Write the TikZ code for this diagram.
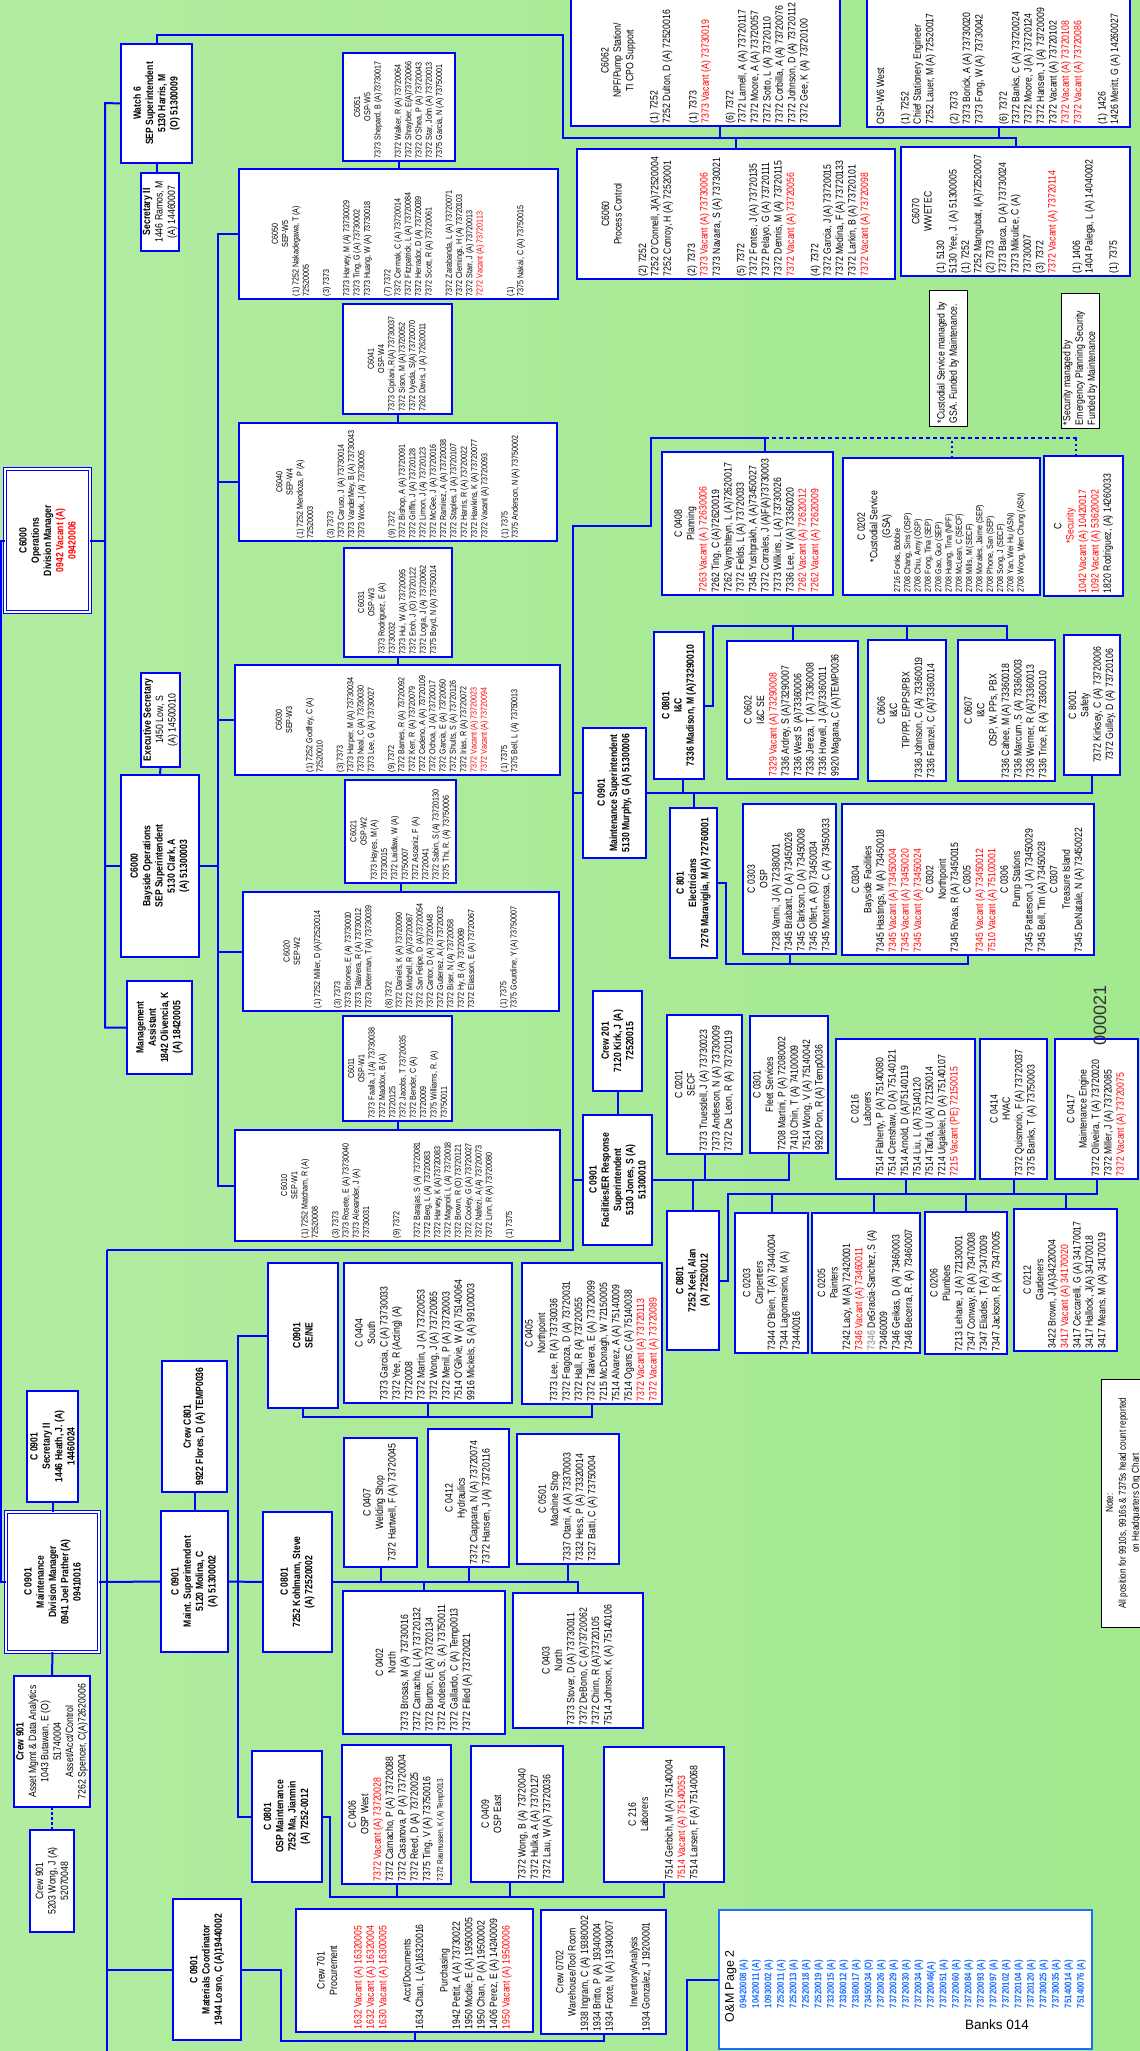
\documentclass[tikz,border=0pt]{standalone}
\usepackage{fontspec}
\setmainfont{Liberation Sans}
\newfontfamily\nar{Liberation Sans}[FakeStretch=0.82]
\usepackage{graphicx}
\exhyphenpenalty=10000 \hyphenpenalty=10000 \hbadness=10000 \hfuzz=80pt
\definecolor{orgblue}{RGB}{0,0,255}
\definecolor{vacred}{RGB}{255,0,0}
\definecolor{pageblue}{RGB}{25,110,255}
\definecolor{bgleft}{RGB}{178,236,161}
\definecolor{bgright}{RGB}{162,233,143}
\newcommand\ctr[1]{\hfill#1\hfill\null}
\newcommand\vac[1]{\textcolor{vacred}{#1}}
\newcommand\rt[2]{\rotatebox{90}{\parbox{#1pt}{#2}}}
\newcommand\fsm{\nar\fontsize{8.7pt}{10.3pt}\selectfont}
\newcommand\fmd{\nar\fontsize{10.6pt}{12.4pt}\selectfont}
\newcommand\fbd{\nar\bfseries\fontsize{10.5pt}{12.3pt}\selectfont}
\tikzset{
  box/.style={draw=orgblue, line width=2.2pt, fill=white, anchor=north west, inner sep=0pt, outer sep=0pt},
  head/.style={box, double=white, double distance=1.6pt, line width=1.3pt},
  notebox/.style={box, draw=black, line width=1pt},
  link/.style={draw=orgblue, line width=2pt},
}
\begin{document}
\begin{tikzpicture}[x=1pt, y=-1pt]
\shade[left color=bgleft, right color=bgright] (0,0) rectangle (1140,2051);
\useasboundingbox (0,0) rectangle (1140,2051);

% operations division
\node[head, minimum width=85, minimum height=143] (ops) at (5,469) {\rt{137}{\centering\fbd C6000\\Operations\\Division Manager\\\vac{0942  Vacant (A)}\\\vac{09420006}}};
\node[box, minimum width=71, minimum height=119] (watch) at (121,44) {\rt{113}{\centering\fbd Watch 6\\SEP Superintendent\\5130 Harris, M\\(O) 51300009}};
\node[box, minimum width=38, minimum height=78] (sec6) at (141,173) {\rt{74}{\centering\fmd\textbf{Secretary II}\\1446 Ramos, M\\(A) 14460007}};
\node[box, minimum width=39, minimum height=94] (exsec) at (141,673) {\rt{90}{\centering\fmd\textbf{Executive Secretary}\\1450 Low, S\\(A) 14500010}};
\node[box, minimum width=78, minimum height=182] (bayside) at (121,775) {\rt{176}{\centering\fbd C6000\\Bayside Operations\\SEP Superintendent\\5130  Clark, A\\(A) 51300003}};
\node[box, minimum width=65, minimum height=93] (mgmt) at (127,981) {\rt{89}{\centering\fbd Management\\Assistant\\1842 Olivencia, K\\(A) 18420005}};

% SEP watches
\node[box, minimum width=112, minimum height=108] (c6051) at (343,53) {\rt{102}{\raggedright\fsm\ctr{C6051}\\\ctr{OSP-W5}\\7373 Shepard, B (A)73730017\\[10pt]7372 Walker, R (A) 73720064\\7372 Shrayber, E(A)73720066\\7372 O'Shea, P (A) 73720043\\7372 Star, John (A) 73720013\\7375 Garcia, N (A) 73750001}};
\node[box, minimum width=319, minimum height=130] (c6050) at (239,169) {\rt{124}{\raggedright\fsm\ctr{C6050}\\\ctr{SEP-W5}\\(1) 7252 Nakadegawa, T (A)\\72520005\\[10pt](3) 7373\\[10pt]7373 Harvey, M (A) 73730029\\7373 Ting, G (A) 73730002\\7373 Huang, W (A) 73730018\\[10pt](7) 7372\\7372 Cermak, C (A) 73720014\\7372 Fitzpatrick, L (A) 73720084\\7372 Herrador, D (A) 73720039\\7372 Scott, R (A) 73720061\\[10pt]7372 Zarabanda, L (A) 73720071\\7372 Clemings, H (A) 73720103\\7372 Starr, J (A) 73720013\\\vac{7272 Vacant (A) 73720113}\\[20pt](1)\\7375 Nakai, C (A) 73750015}};
\node[box, minimum width=109, minimum height=110] (c6041) at (343,304) {\rt{104}{\raggedright\fsm\ctr{C6041}\\\ctr{OSP-W4}\\7373 Cipriani, R(A) 73730037\\7372 Sison, M (A)73720052\\7372 Uyeda, S(A) 73720070\\7262 Davis, J (A) 72620011}};
\node[box, minimum width=318, minimum height=118] (c6040) at (239,423) {\rt{112}{\raggedright\fsm\ctr{C6040}\\\ctr{SEP-W4}\\(1) 7252 Mendoza, P (A)\\72520003\\[10pt](3) 7373\\7373 Caruso, J (A) 73730014\\7373 VanderMey, B (A) 73730043\\7373 Work, J (A) 73730005\\[20pt](9) 7372\\7372 Bishop, A (A) 73720091\\7372 Griffin, J (A) 73720128\\7372 Limon, J (A) 73720123\\7372 McGee, J (A) 73720016\\7372 Ramirez, A (A) 73720038\\7372 Staples, J (A) 73720107\\7372 Harris, R (A) 73720022\\7372 Hawkins, K (A) 73720077\\7372 Vacant (A) 73720093\\[10pt](1) 7375\\7375 Anderson, N (A) 73750002}};
\node[box, minimum width=108, minimum height=109] (c6031) at (344,548) {\rt{103}{\raggedright\fsm\ctr{C6031}\\\ctr{OSP-W3}\\7373 Rodriguez, E (A)\\73730032\\7373 Hui, W (A) 73720095\\7372 Eroh, J (O) 73720122\\7372 Logia, J (A) 73720062\\7375 Boyd, N (A) 73750014}};
\node[box, minimum width=325, minimum height=110] (c6030) at (235,665) {\rt{104}{\raggedright\fsm\ctr{C6030}\\\ctr{SEP-W3}\\[10pt](1) 7252 Godfrey, C (A)\\72520010\\[10pt](3) 7373\\7373 Harper, M (A) 73730034\\7373 Neal, C (A) 73730030\\7373 Lee, G (A) 73730027\\[10pt](9) 7372\\7372 Barnes, R (A) 73720092\\7372 Kerr, R (A) 73720079\\7372 Cedeno, A (A) 73720109\\7372 Ochoa, J (A) 73720017\\7372 Garcia, E (A) 73720050\\7372 Shults, S (A) 73720126\\7372 Irias, R (A) 73720072\\\vac{7372 Vacant (A) 73720023}\\\vac{7372 Vacant (A) 73720094}\\[10pt](1) 7375\\7375 Bell, L (A) 73750013}};
\node[box, minimum width=111, minimum height=103] (c6021) at (345,780) {\rt{97}{\raggedright\fsm\ctr{C6021}\\\ctr{OSP-W2}\\7373 Hayes, M (A)\\73730015\\7372 Laidlaw, W (A)\\73750007\\7372 Ascaniz, F (A)\\73720041\\7372 Sabin, S (A) 73720130\\7375 Thi, R. (A) 73750006}};
\node[box, minimum width=316, minimum height=119] (c6020) at (243,892) {\rt{113}{\raggedright\fsm\ctr{C6020}\\\ctr{SEP-W2}\\[10pt](1) 7252 Miller, D (A)72520014\\[10pt](3) 7373\\7373 Briones, E (A) 73730010\\7373 Talavera, R (A) 73730012\\7373 Determan, T (A) 73730039\\[10pt](8) 7372\\7372 Daniels, K (A) 73720090\\7372 Mitchell, R (A)73720087\\7372 San Felipe, D (A)73720054\\7372 Cantor, D (A) 73720048\\7372 Gutierrez, A (A) 73720032\\7372 Biser, N (A) 73720058\\7372 Hy, B (A) 73720069\\7372 Eliasson, E (A) 73720067\\[22pt](1) 7375\\7375 Gourdine, Y (A) 73750007}};
\node[box, minimum width=109, minimum height=105] (c6011) at (343,1016) {\rt{99}{\raggedright\fsm\ctr{C6011}\\\ctr{OSP-W1}\\7373 Faalla, J (A) 73730038\\7372 Maddox, B (A)\\73720125\\7372 Jacobs, T 73720035\\7372 Bender, C (A)\\73720009\\7375 Williams, R. (A)\\73750011}};
\node[box, minimum width=325, minimum height=111] (c6010) at (235,1130) {\rt{105}{\raggedright\fsm\ctr{C6010}\\\ctr{SEP-W1}\\(1) 7252 Matcham, R (A)\\72520008\\[10pt](3) 7373\\7373 Rosete, E (A) 73730040\\7373 Alexander, J (A)\\73730031\\[20pt](9) 7372\\[10pt]7372 Barajas, S (A) 73720081\\7372 Berg, L (A) 73720083\\7372 Harvey, K (A)73720083\\7372 Magnoli, L (A) 73720018\\7372 Brown, R (O) 73720121\\7372 Cooley, G (A) 73720027\\7372 Nafezi, A (A) 73720073\\7372 Linn, R (A) 73720080\\[10pt](1) 7375}};

% watch 6 units
\node[box, minimum width=269, minimum height=131] (c6062) at (571,-5) {\rt{125}{\raggedright\fmd\ctr{C6062}\\\ctr{NPF/Pump Station/}\\\ctr{TI CPO Support}\\[12pt](1) 7252\\7252 Dulton, D (A) 72520016\\[14pt](1) 7373\\\vac{7373 Vacant (A) 73730019}\\[12pt](6) 7372\\7372 Larnell, A (A) 73720117\\7372 Moore, A (A) 73720057\\7372 Sotto, L (A) 73720110\\7372 Corbilla, A (A) 73720076\\7372 Johnson, D (A) 73720112\\7372 Gee, K (A) 73720100}};
\node[box, minimum width=318, minimum height=130] (c6060) at (577,149) {\rt{124}{\raggedright\fmd\ctr{C6060}\\\ctr{Process Control}\\[12pt](2) 7252\\7252 O'Connell, J(A)72520004\\7252 Conroy, H (A) 72520001\\[12pt](2) 7373\\\vac{7373 Vacant (A) 73730006}\\7373 Navarra, S (A) 73730021\\[12pt](5) 7372\\7372 Fontes, J (A) 73720135\\7372 Pelayo, G (A) 73720111\\7372 Dennis, M (A) 73720115\\\vac{7372 Vacant (A) 73720056}\\[12pt](4) 7372\\7372 Garcia, J (A) 73720015\\7372 Medina, F (A) 73720133\\7372 Larkin, B (A) 73720101\\\vac{7372 Vacant (A) 73720098}}};
\node[box, minimum width=263, minimum height=132] (ospw6) at (867,-5) {\rt{126}{\raggedright\fmd OSP-W6 West\\[12pt](1) 7252\\Chief Stationery Engineer\\7252 Lauer, M (A) 72520017\\[12pt](2) 7373\\7373 Borick, A (A) 73730020\\7373 Fong, W (A) 73730042\\[12pt](6) 7372\\7372 Banks, C (A) 73720024\\7372 Moore, J (A) 73720124\\7372 Hansen, J (A) 73720009\\7372 Vacant (A) 73720102\\\vac{7372 Vacant (A) 73720108}\\\vac{7372 Vacant (A) 73720086}\\[12pt](1) 1426\\1426 Meritt, G (A) 14260027}};
\node[box, minimum width=229, minimum height=129] (c6070) at (901,147) {\rt{123}{\raggedright\fmd\ctr{C6070}\\\ctr{WWETEC}\\(1) 5130\\5130 Yee, J. (A) 51300005\\(1) 7252\\7252 Mangubat, I(A)72520007\\(2) 7373\\7373 Barca, D (A) 73730024\\7373 Mikulice, C (A)\\73730007\\(3) 7372\\\vac{7372 Vacant (A) 73720114}\\[12pt](1) 1406\\1404 Palega, L (A) 14040002\\[12pt](1) 7375}};
\node[notebox, minimum width=38, minimum height=136] (custnote) at (929,290) {\rt{130}{\raggedright\fmd *Custodial Service managed by\\GSA. Funded by Maintenance.}};
\node[notebox, minimum width=38, minimum height=135] (secnote) at (1061,293) {\rt{129}{\raggedright\fmd *Security managed by\\Emergency Planning Security\\Funded by Maintenance}};

% maintenance superintendent
\node[box, minimum width=171, minimum height=143] (c0408) at (662,452) {\rt{137}{\raggedright\fmd\ctr{C 0408}\\\ctr{Planning}\\\vac{7263 Vacant (A ) 72630006}\\7262 Ting, C (A)72620019\\7262 Vaynshteyn, L (A)72620017\\7372 Fields, L (A) 73720033\\7345 Yushprakh, A (A)73450027\\7372 Corrales, J (A)F(A)73730003\\7373 Wilkins, L (A) 73730026\\7336 Lee, W (A) 73360020\\\vac{7262 Vacant (A) 72620012}\\\vac{7262 Vacant (A) 72620009}}};
\node[box, minimum width=197, minimum height=137] (c0202) at (843,458) {\rt{131}{\raggedright\fmd\ctr{C 0202}\\\ctr{*Custodial Service}\\\ctr{(GSA)}\\\fsm 2716 Fonks, Bobbie\\2708 Chang, Sins (OSP)\\2708 Chiu, Amy (OSP)\\2708 Fong, Tina (SEP)\\2708 Gao, Guo (SEP)\\2708 Huang, Tina (NPF)\\2708 McLean, C (SECF)\\2708 Mills, M (SECF)\\2708 Morales, Jaime (SEP)\\2708 Phone, San (SEP)\\2708 Song, J (SECF)\\2708 Yan, Wei Hu (ASN)\\2708 Wong, Wen Chung (ASN)}};
\node[box, minimum width=79, minimum height=140] (csec) at (1044,456) {\rt{134}{\raggedright\fmd\ctr{C}\\\ctr{\vac{*Security}}\\\vac{1042 Vacant (A) 10420017}\\\vac{1092 Vacant (A) 53620002}\\1820 Rodriguez, (A) 14260033}};
\node[box, minimum width=63, minimum height=130] (murphy) at (583,728) {\rt{126}{\centering\fbd C 0901\\Maintenance Superintendent\\5130 Murphy, G (A) 51300006}};
\node[box, minimum width=50, minimum height=147] (c0801ic) at (654,632) {\rt{141}{\centering\fbd C 0801\\I\&C\\7336 Madison, M (A)73290010}};
\node[box, minimum width=131, minimum height=138] (c0602) at (727,641) {\rt{132}{\raggedright\fmd\ctr{C 0602}\\\ctr{I\&C SE}\\\vac{7329 Vacant (A) 73290008}\\7336 Ardrey, S (A)73290007\\7336 West S (A)73360006\\7336 Jereza, T (A) 73360008\\7336 Howell, J (A)73360011\\9920 Magana, C (A)TEMP0036}};
\node[box, minimum width=78, minimum height=141] (c0606) at (868,640) {\rt{135}{\raggedright\fmd\ctr{C 0606}\\\ctr{I\&C}\\\ctr{TIP/PP, E/PPS/PBX}\\7336 Johnson, C (A) 73360019\\7336 Franzel, C (A)73360014}};
\node[box, minimum width=97, minimum height=141] (c0607) at (958,640) {\rt{135}{\raggedright\fmd\ctr{C 0607}\\\ctr{I\&C}\\\ctr{OSP, W, PPs, PBX}\\7336 Cahee, M (A) 73360018\\7336 Marcum, S (A) 73360003\\7336 Werner, R (A)73360013\\7336 Trice, R (A) 73360010}};
\node[box, minimum width=56, minimum height=140] (c8001) at (1064,635) {\rt{134}{\centering\fmd C 8001\\Safety\\7372 Kirksey, C (A) 73720006\\7372 Gulley, D (A) 73720106}};
\node[box, minimum width=47, minimum height=150] (c801) at (670,808) {\rt{144}{\centering\fbd C 801\\Electricians\\7276 Maraviglia, M (A) 72760001}};
\node[box, minimum width=93, minimum height=150] (c0303) at (743,804) {\rt{144}{\raggedright\fmd\ctr{C 0303}\\\ctr{OSP}\\7238 Vanni, J (A) 72380001\\7345 Brabant, D (A) 73450026\\7345 Clarkson, D (A) 73450008\\7345 Olfert, A (O) 73450034\\7345 Monterrosa, C (A) 73450033}};
\node[box, minimum width=252, minimum height=151] (c0304) at (842,804) {\rt{145}{\raggedright\fmd\ctr{C 0304}\\\ctr{Bayside Facilities}\\7345 Hastings, M (A) 73450018\\\vac{7345 Vacant (A) 73450004}\\\vac{7345 Vacant (A) 73450020}\\\vac{7345 Vacant (A) 73450024}\\\ctr{C 0302}\\\ctr{Northpoint}\\7345 Rivas, R (A) 73450015\\\ctr{C 0305}\\\vac{7345 Vacant (A) 73450012}\\\vac{7510 Vacant (A) 75100001}\\\ctr{C 0306}\\\ctr{Pump Stations}\\7345 Patterson, J (A) 73450029\\7345 Bell, Tim (A) 73450028\\\ctr{C 0307}\\\ctr{Treasure Island}\\7345 DeNatale, N (A) 73450022}};

% facilities / ER response
\node[box, minimum width=49, minimum height=100] (crew201) at (593,991) {\rt{94}{\centering\fbd Crew 201\\7120 Kirk, J (A)\\72520015}};
\node[box, minimum width=69, minimum height=130] (facil) at (583,1115) {\rt{124}{\centering\fbd C 0901\\Facilities/ER Response\\Superintendent\\5130 Jones, S (A)\\51300010}};
\node[box, minimum width=75, minimum height=139] (c0201) at (667,1015) {\rt{133}{\raggedright\fmd\ctr{C 0201}\\\ctr{SECF}\\7373 Truesdell, J (A) 73730023\\7373 Anderson, N (A) 73730009\\7372 De Leon, R (A) 73720119}};
\node[box, minimum width=78, minimum height=137] (c0301) at (750,1016) {\rt{131}{\raggedright\fmd\ctr{C 0301}\\\ctr{Fleet Services}\\7208 Martini, P (A) 72080002\\7410 Chin, T (A) 74100009\\7514 Wong, V (A) 75140042\\9920 Pon, R (A) Temp0036}};
\node[box, minimum width=52, minimum height=139] (keel) at (667,1211) {\rt{133}{\centering\fbd C 0801\\7252 Keel, Alan\\(A) 72520012}};
\node[box, minimum width=73, minimum height=140] (c0203) at (735,1213) {\rt{134}{\raggedright\fmd\ctr{C 0203}\\\ctr{Carpenters}\\7344 O'Brien, T (A) 73440004\\7344 Lagomarsino, M (A)\\73440016}};
\node[box, minimum width=108, minimum height=140] (c0205) at (812,1213) {\rt{134}{\raggedright\fmd\ctr{C 0205}\\\ctr{Painters}\\7242 Lacy, M (A) 72420001\\\vac{7346 Vacant (A) 73460011}\\\textcolor{gray}{7346} DeGracia-Sanchez, S (A)\\73460009\\7346 Geikas, D (A) 73460003\\7346 Becerra, R. (A) 73460007}};
\node[box, minimum width=82, minimum height=142] (c0206) at (925,1212) {\rt{136}{\raggedright\fmd\ctr{C 0206}\\\ctr{Plumbers}\\7213 Lehane, J (A) 72130001\\7347 Conway, R (A) 73470008\\7347 Eliades, T (A) 73470009\\7347 Jackson, R (A) 73470005}};
\node[box, minimum width=103, minimum height=142] (c0212) at (1014,1209) {\rt{136}{\raggedright\fmd\ctr{C 0212}\\\ctr{Gardeners}\\3422 Brown, J (A)34220004\\\vac{3417 Vacant (A) 34170020}\\3417 Ceccarelli, G (A) 34170017\\3417 Hallock, J(A) 34170018\\3417 Means, M (A) 34170019}};
\node[box, minimum width=139, minimum height=140] (c0216) at (836,1039) {\rt{134}{\raggedright\fmd\ctr{C 0216}\\\ctr{Laborers}\\7514 Flaherty, P (A) 75140080\\7514 Crenshaw, D (A) 75140121\\7514 Arnold, D (A)75140119\\7514 Liu, L (A) 75140120\\7514 Taufa, U (A) 72150014\\7214 Uigalelei, D (A) 75140107\\\vac{7215 Vacant (PE) 72150015}}};
\node[box, minimum width=67, minimum height=140] (c0414) at (980,1039) {\rt{134}{\raggedright\fmd\ctr{C 0414}\\\ctr{HVAC}\\7372 Quismorio, F (A) 73720037\\7375 Banks, T (A) 73750003}};
\node[box, minimum width=83, minimum height=140] (c0417) at (1055,1039) {\rt{134}{\raggedright\fmd\ctr{C 0417}\\\ctr{Maintenance Engine}\\7372 Oliveira, T (A) 73720020\\7372 Miller, J (A) 73720085\\\vac{7372 Vacant (A) 73720075}}};
\node[notebox, minimum width=45, minimum height=248] (note) at (1101,1379) {\rt{242}{\centering\nar\fontsize{10pt}{13pt}\selectfont Note:\\All position for 9910s, 9916s \& 7375s  head count reported\\on Headquarters Org Chart}};
\node[rotate=90, font=\fontsize{18pt}{18pt}\selectfont, text=black!80] (sheetno) at (1100,1015) {000021};

% maintenance division
\node[box, minimum width=51, minimum height=111] (c0901sec) at (27,1391) {\rt{105}{\centering\fbd C 0901\\Secretary II\\1446 Heath, J.  (A)\\14460024}};
\node[head, minimum width=93, minimum height=140] (maint) at (6,1512) {\rt{134}{\centering\fbd C 0901\\Maintenance\\Division Manager\\0941 Joel Prather  (A)\\09410016}};
\node[box, minimum width=76, minimum height=131] (crew901a) at (14,1676) {\rt{125}{\centering\fmd\textbf{Crew 901}\\Asset Mgmt \& Data Analytics\\1043 Butawan, E (O)\\51740004\\Asset/Acct/Control\\7262 Spencer, C(A)72620006}};
\node[box, minimum width=44, minimum height=102] (crew901b) at (30,1830) {\rt{96}{\centering\fmd Crew 901\\5203 Wong, J (A)\\52070048}};
\node[box, minimum width=65, minimum height=131] (crewc801) at (162,1361) {\rt{125}{\centering\fbd Crew C801\\9922 Flores, D (A) TEMP0036}};
\node[box, minimum width=67, minimum height=141] (molina) at (161,1511) {\rt{135}{\centering\fbd C 0901\\Maint. Superintendent\\5120 Molina, C\\(A) 51300002}};
\node[box, minimum width=70, minimum height=145] (sene) at (268,1263) {\rt{139}{\centering\fbd C0901\\SE/NE}};
\node[box, minimum width=168, minimum height=140] (c0404) at (344,1263) {\rt{134}{\raggedright\fmd\ctr{C 0404}\\\ctr{South}\\7373 Garcia, C (A) 73730033\\7372 Yee, R (Acting) (A)\\73720008\\7372 Martin, J (A) 73720053\\7372 Wong, J (A) 73720065\\7372 Menil, P (A) 73720003\\7514 O'Gilvie, W (A) 75140064\\9916 Mickels, S (A) 99100003\\[14pt]\null}};
\node[box, minimum width=140, minimum height=141] (c0405) at (522,1263) {\rt{135}{\raggedright\fmd\ctr{C 0405}\\\ctr{Northpoint}\\7373 Lee, R (A) 73730036\\7372 Fragoza, D (A) 73720031\\7372 Hall, R (A) 73720055\\7372 Talavera, E (A) 73720099\\7215 McDonagh, W 72150005\\7514 Alvarez, A (A) 75140009\\7514 Ogans,C (A) 75140038\\\vac{7372 Vacant (A) 73720113}\\\vac{7372 Vacant (A) 73720089}}};
\node[box, minimum width=69, minimum height=140] (kohl) at (263,1512) {\rt{134}{\centering\fbd C 0801\\7252 Kohlmann, Steve\\(A) 72520002}};
\node[box, minimum width=73, minimum height=129] (c0407) at (344,1438) {\rt{123}{\centering\fmd C 0407\\Welding Shop\\7372 Hartwell, F (A) 73720045}};
\node[box, minimum width=81, minimum height=138] (c0412) at (428,1429) {\rt{132}{\raggedright\fmd\ctr{C 0412}\\\ctr{Hydraulics}\\7372 Ciappara, N (A) 73720074\\7372 Hansen, J (A) 73720116}};
\node[box, minimum width=102, minimum height=130] (c0501) at (517,1434) {\rt{124}{\raggedright\fmd\ctr{C 0501}\\\ctr{Machine Shop}\\7337 Otani, A (A) 73370003\\7332 Hess, P (A) 73320014\\7327 Batti, C (A) 73750004}};
\node[box, minimum width=162, minimum height=143] (c0402) at (343,1591) {\rt{137}{\raggedright\fmd\ctr{C 0402}\\\ctr{North}\\7373 Brosas, M (A) 73730016\\7372 Camacho, L (A) 73720132\\7372 Burton, E (A) 73720134\\7372 Anderson, S. (A) 73750011\\7372 Gallardo, C (A) Temp0013\\7372 Filled (A) 73720021}};
\node[box, minimum width=130, minimum height=135] (c0403) at (513,1593) {\rt{129}{\raggedright\fmd\ctr{C 0403}\\\ctr{North}\\7373 Stover, D (A) 73730011\\7372 DeBono, C (A)73720062\\7372 Chinn, R (A)73720105\\7514 Johnson, K (A) 75140106}};
\node[box, minimum width=70, minimum height=131] (ospm) at (252,1751) {\rt{125}{\centering\fbd C 0801\\OSP Maintenance\\7252  Ma, Jianmin\\(A) 7252-0012}};
\node[box, minimum width=109, minimum height=139] (c0406) at (342,1745) {\rt{133}{\raggedright\fmd\ctr{C 0406}\\\ctr{OSP West}\\\vac{7372 Vacant (A) 73720028}\\7372 Camacho, P (A) 73720088\\7372 Casanova, P (A) 73720004\\7372 Reed, D (A) 73720025\\7375 Ting, V (A) 73750016\\{\nar\fontsize{8pt}{10pt}\selectfont 7372 Rasmussen, K (A) Temp0013}}};
\node[box, minimum width=92, minimum height=136] (c0409) at (471,1746) {\rt{130}{\raggedright\fmd\ctr{C 0409}\\\ctr{OSP East}\\[12pt]7372 Wong, B (A) 73720040\\7372 Hulka, A (A) 7370127\\7372 Lau, W (A) 73720036}};
\node[box, minimum width=120, minimum height=135] (c216) at (604,1747) {\rt{129}{\raggedright\fmd\ctr{C 216}\\\ctr{Laborers}\\[12pt]7514 Gerbich, M (A) 75140004\\\vac{7514 Vacant (A) 75140053}\\7514 Larsen, F (A) 75140068}};
\node[box, minimum width=68, minimum height=141] (matl) at (173,1899) {\rt{135}{\centering\fbd C 0901\\Materials Coordinator\\1944 Losno, C (A)19440002}};
\node[box, minimum width=237, minimum height=123] (crew701) at (296,1909) {\rt{117}{\raggedright\fmd\ctr{Crew 701}\\\ctr{Procurement}\\[12pt]\vac{1632 Vacant (A) 16320005}\\\vac{1632 Vacant (A) 16320004}\\\vac{1630 Vacant (A) 16300005}\\[12pt]\ctr{Acct/Documents}\\1634 Chan, L (A)16320016\\[12pt]\ctr{Purchasing}\\1942 Pettit, A (A) 73730022\\1950 Modie, E (A) 19500005\\1950 Chan, P (A) 19500002\\1406 Perez, E (A) 14240009\\\vac{1950 Vacant (A) 19500006}}};
\node[box, minimum width=125, minimum height=124] (crew0702) at (541,1910) {\rt{118}{\raggedright\fmd\ctr{Crew 0702}\\\ctr{Warehouse/Tool Room}\\1938 Ingram, C (A) 19380002\\1934 Britto, P (A) 19340004\\1934 Foote, N (A) 19340007\\[12pt]\ctr{Inventory/Analysis}\\1934 Gonzalez, J 19200001}};
\node[box, draw=pageblue, line width=2pt, minimum width=373, minimum height=139] (om2) at (719,1910) {\rt{133}{\raggedright\fontsize{12.5pt}{13pt}\selectfont\hspace*{24pt}O\&M Page 2\par
  \nar\bfseries\fontsize{9.6pt}{12.5pt}\selectfont\color{pageblue}\leftskip=38pt
  09420008 (A)\\10420011 (A)\\10930002 (A)\\72520011 (A)\\72520013 (A)\\72520018 (A)\\72520019 (A)\\73320015 (A)\\73360012 (A)\\73360017 (A)\\73450034 (O)\\73720026 (A)\\73720029 (A)\\73720030 (A)\\73720034 (A)\\73720046(A)\\73720051 (A)\\73720060 (A)\\73720084 (A)\\73720093 (A)\\73720097 (A)\\73720102 (A)\\73720104 (A)\\73720120 (A)\\73730025 (A)\\73730035 (A)\\75140014 (A)\\75140076 (A)}};
\node[font=\fontsize{13.5pt}{14pt}\selectfont] (banks) at (997,2025) {Banks 014};

% connectors: operations
\coordinate (opsbus) at (105,103);
\coordinate (sepbus) at (218,234);
\draw[link] (ops.west) -- (1,540.5) |- (maint.west);
\draw[link] (watch.west) -- (opsbus) |- (mgmt.west);
\draw[link] (ops.east) -- (ops.east -| opsbus);
\draw[link] (bayside.west) -- (bayside.west -| opsbus);
\draw[link] (watch.south) -- (watch.south |- sec6.north);
\draw[link] (exsec.south) -- (bayside.north);
\draw[link] (watch.north) |- (563,35) -- (563,138) -| (c6070.north);
\draw[link] ([xshift=14pt]c6062.south) -- ++(0,12);
\draw[link] (c6060.north) -- ++(0,-11);
\draw[link] (ospw6.south) -- ++(0,11);
\draw[link] (bayside.east) -- (bayside.east -| sepbus);
\draw[link] (c6050.west) -- (sepbus) |- (c6010.west);
\foreach \w in {c6040,c6030,c6020}
  \draw[link] (\w.west) -- (\w.west -| sepbus);
\draw[link] (c6051.south) -- (c6051.south |- c6050.north);
\draw[link] (c6041.south) -- (c6041.south |- c6040.north);
\draw[link] (c6031.south) -- (c6031.south |- c6030.north);
\draw[link] (c6021.south) -- (c6021.south |- c6020.north);
\draw[link] (c6011.south) -- (c6011.south |- c6010.north);

% connectors: maintenance
\coordinate (mbus) at (107,1250);
\coordinate (fbus) at (573,1250);
\coordinate (gbus) at (765,438);
\draw[link] (mbus) -- (107,2051);
\draw[link] (mbus) -- (fbus) -- (573,526) -| (651,438) -- (gbus);
\draw[link] (gbus) -- (gbus |- c0408.north);
\draw[link, dash pattern=on 4pt off 3pt] (gbus) -- (1077,438);
\draw[link, dash pattern=on 2pt off 3pt] ([xshift=10.5pt]c0202.north) -- ++(0,-20);
\draw[link, dash pattern=on 2pt off 3pt] ([xshift=-7.5pt]csec.north) -- ++(0,-18);
\draw[link] (murphy.west) -- (murphy.west -| fbus);
\draw[link] (facil.west) -- (facil.west -| fbus);
\draw[link] (murphy.east) -| (c8001.south);
\draw[link] ([xshift=4pt]c0801ic.south) -- ++(0,14);
\draw[link] (c801.north) -- ++(0,-15);
\draw[link] (c0801ic.east) -- ++(9,0) -- (713,626) -| (c0607.north);
\draw[link] (c0602.north) -- ++(0,-15);
\draw[link] (c0606.north) -- ++(0,-14);
\draw[link] (c801.east) -- ++(9,0) -- (726,964) -| (c0304.south);
\draw[link] (c0303.south) -- ++(0,10);
\draw[link] (crew201.south) -- (facil.north);
\draw[link] (facil.east) -| (c0301.south);
\draw[link] (c0201.south) -- ++(0,26);
\draw[link] (keel.north) -- ++(0,-31);
\draw[link] (keel.east) -- ++(9,0) -- (728,1194) -| (c0417.south);
\draw[link] (c0216.south) -- ++(0,15);
\draw[link] (c0414.south) -- ++(0,15);
\draw[link] (c0203.north) -- ++(0,-19);
\draw[link] ([xshift=8pt]c0205.north) -- ++(0,-19);
\draw[link] (c0206.north) -- ++(0,-18);
\draw[link] (c0212.north) -- ++(0,-15);

\draw[link] (c0901sec.south) -- (maint.north);
\draw[link] (maint.south) -- (crew901a.north);
\draw[link, dash pattern=on 3pt off 2pt] (crew901a.south) -- (crew901b.north);
\draw[link] (maint.east) -- (molina.west);
\draw[link] (crewc801.south) -- (molina.north);
\draw[link] (molina.east) -- (kohl.west);
\coordinate (sbus) at (238,1335.5);
\draw[link] (sene.west) -- (sbus) |- (ospm.west);
\draw[link] (sene.south) -- ++(0,9) -| (c0405.south);
\draw[link] (c0404.south) -- ++(0,14);
\draw[link] (kohl.east) -| (c0403.north);
\draw[link] (c0407.south) -- ++(0,15);
\draw[link] (c0412.south) -- ++(0,15);
\draw[link] (c0501.south) -- ++(0,18);
\draw[link] (c0402.north) -- ++(0,-9);
\draw[link] (ospm.east) -- ++(8,0) -- (330,1897) -| (c216.south);
\draw[link] (c0406.south) -- ++(0,13);
\draw[link] ([xshift=-7pt]c0409.south) -- ++(0,15);
\draw[link] (matl.west) -- (matl.west -| mbus);
\draw[link] (matl.east) -- ++(40,0) -- (281,2041) -| (crew0702.south);
\draw[link] (crew701.south) -- ++(0,9);
\draw[link] (om2.west) -- (687,1979.5) -- (687,2051);
\end{tikzpicture}
\end{document}
